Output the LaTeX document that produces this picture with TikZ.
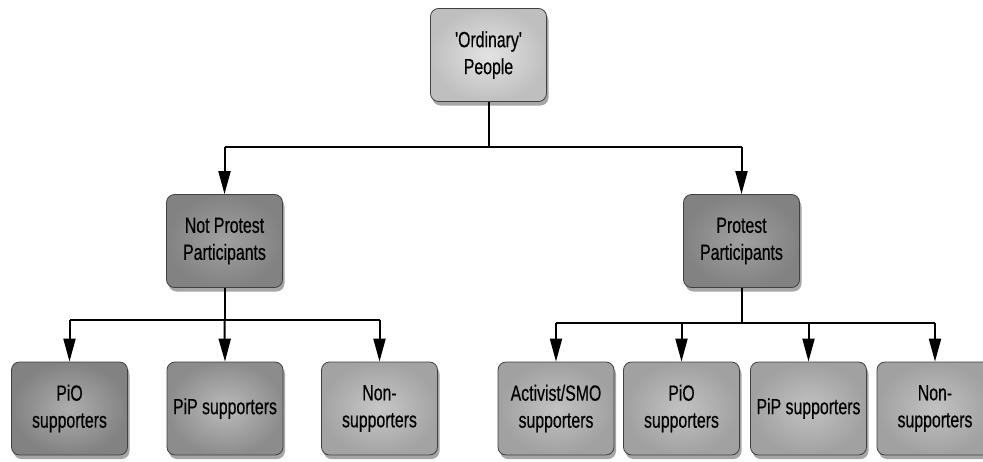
\documentclass[tikz,border=0pt]{standalone}
\usepackage{fontspec}
\newfontfamily\nodefont{Liberation Sans}[FakeStretch=0.72,FakeBold=0.4]
\usetikzlibrary{shadows,arrows.meta}
\tikzset{
  box/.style={rounded corners=8pt, draw=black!75, line width=0.8pt,
    minimum width=116pt, minimum height=93pt, inner sep=0pt, align=center,
    text=black, font=\nodefont\fontsize{22}{27}\selectfont,
    drop shadow={shadow xshift=2pt, shadow yshift=-4pt, opacity=0.35, fill=black}},
  lightbox/.style={box, shading=radial, inner color=black!11, outer color=black!25},
  midbox/.style={box, shading=radial, inner color=black!37, outer color=black!49},
  darkbox/.style={box, shading=radial, inner color=black!32, outer color=black!49},
  medbox/.style={box, shading=radial, inner color=black!27, outer color=black!45},
  palebox/.style={box, shading=radial, inner color=black!22, outer color=black!36},
  rbox/.style={box, shading=radial, inner color=black!24, outer color=black!37},
  conn/.style={line width=2pt, black},
  arr/.style={conn, -{Triangle[length=23pt,width=12pt]}}
}
\begin{document}
\begin{tikzpicture}[x=1pt,y=-1pt]
\useasboundingbox (0,0) rectangle (983,461);
\fill[white] (0,0) rectangle (983,461);
% nodes
\node[lightbox] (top) at (488.5,55) {'Ordinary'\\People};
\node[midbox] (np) at (224.5,241) {Not Protest\\Participants};
\node[midbox] (pp) at (741.5,241) {Protest\\Participants};
\node[darkbox] (l1) at (69.5,408.5) {PiO\\supporters};
\node[medbox] (l2) at (225,408.5) {PiP supporters};
\node[palebox] (l3) at (379.5,408.5) {Non-\\supporters};
\node[rbox] (r1) at (556,408.5) {Activist/SMO\\supporters};
\node[rbox] (r2) at (681.5,408.5) {PiO\\supporters};
\node[rbox] (r3) at (808.5,408.5) {PiP supporters};
\node[rbox] (r4) at (935,408.5) {Non-\\supporters};
% junctions
\coordinate (j0) at (488.5,147);
\coordinate (j1) at (224.5,320);
\coordinate (j2) at (741.5,323);
% top level
\draw[conn] (top.south) -- (j0);
\draw[conn] (np.north |- j0) -- (pp.north |- j0);
\draw[arr] (np.north |- j0) -- (np.north);
\draw[arr] (pp.north |- j0) -- (pp.north);
% left group
\draw[conn] (np.south) -- (j1);
\draw[conn] (l1.north |- j1) -- (l3.north |- j1);
\draw[arr] (l1.north |- j1) -- (l1.north);
\draw[arr] (j1) -- (l2.north);
\draw[arr] (l3.north |- j1) -- (l3.north);
% right group
\draw[conn] (pp.south) -- (j2);
\draw[conn] (r1.north |- j2) -- (r4.north |- j2);
\draw[arr] (r1.north |- j2) -- (r1.north);
\draw[arr] (r2.north |- j2) -- (r2.north);
\draw[arr] (r3.north |- j2) -- (r3.north);
\draw[arr] (r4.north |- j2) -- (r4.north);
\end{tikzpicture}
\end{document}
